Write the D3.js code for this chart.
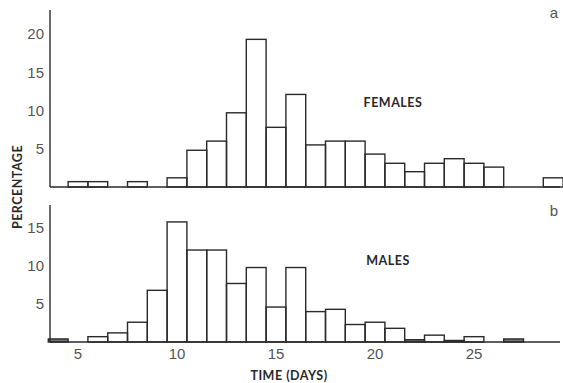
<!DOCTYPE html>
<html>
<head>
<meta charset="utf-8">
<script src="https://cdn.jsdelivr.net/npm/d3@7"></script>
<style>
  body { margin: 0; background: #fff; }
  svg { display: block; }
  .tick-label { font-family: 'Liberation Sans', Arial, sans-serif; font-size: 15px; fill: #555; }
  .lbl { font-family: Lato, 'Open Sans', sans-serif; font-weight: bold; font-size: 12.5px; fill: #2a2a2a; letter-spacing: 0.5px; }
</style>
</head>
<body>
<svg width="563" height="383"></svg>
<script>
// days (bar centres) and percentages
let femaleDays = [5, 6, 8, 10, 11, 12, 13, 14, 15, 16, 17, 18, 19, 20, 21, 22, 23, 24, 25, 26, 29];
let femaleValues = [0.7, 0.7, 0.7, 1.2, 4.8, 6.0, 9.7, 19.3, 7.8, 12.1, 5.5, 6.0, 6.0, 4.3, 3.1, 2.0, 3.1, 3.7, 3.1, 2.6, 1.2];
let maleDays = [4, 6, 7, 8, 9, 10, 11, 12, 13, 14, 15, 16, 17, 18, 19, 20, 21, 22, 23, 24, 25, 27];
let maleValues = [0.4, 0.7, 1.2, 2.6, 6.8, 15.8, 12.1, 12.1, 7.7, 9.8, 4.6, 9.8, 4.0, 4.3, 2.3, 2.6, 1.8, 0.3, 0.9, 0.2, 0.7, 0.4];
let xTicks = [5, 10, 15, 20, 25];
let femaleTicks = [5, 10, 15, 20];
let maleTicks = [5, 10, 15];

let svg = d3.select('svg');
let ink = '#2a2a2a';

let x = d3.scaleLinear().domain([5, 25]).range([78, 474]);
let bw = x(1) - x(0);

let panels = [
  { days: femaleDays, values: femaleValues, ticks: femaleTicks, y: d3.scaleLinear().domain([0, 20]).range([187, 34]),
    top: 10, name: 'FEMALES', nameX: 393, nameY: 107, letter: 'a', letterY: 18 },
  { days: maleDays, values: maleValues, ticks: maleTicks, y: d3.scaleLinear().domain([0, 15]).range([342, 228]),
    top: 205, name: 'MALES', nameX: 388, nameY: 265, letter: 'b', letterY: 216 }
];

panels.forEach(function(p) {
  let g = svg.append('g');
  let base = p.y(0);
  let data = p.days.map(function(d, i) { return { day: d, v: p.values[i] }; });

  g.selectAll('rect')
    .data(data)
    .enter()
    .append('rect')
    .attr('x', function(d) { return x(d.day - 0.5); })
    .attr('y', function(d) { return p.y(d.v); })
    .attr('width', bw)
    .attr('height', function(d) { return base - p.y(d.v); })
    .attr('fill', function(d) { return d.v < 0.5 ? '#777' : 'none'; })
    .attr('stroke', ink)
    .attr('stroke-width', 1.4);

  // axes
  g.append('line')
    .attr('x1', 50).attr('x2', 50)
    .attr('y1', p.top).attr('y2', base)
    .attr('stroke', ink).attr('stroke-width', 1.4);
  g.append('line')
    .attr('x1', 50).attr('x2', 560)
    .attr('y1', base).attr('y2', base)
    .attr('stroke', ink).attr('stroke-width', 1.4);

  g.selectAll('.ytick')
    .data(p.ticks)
    .enter()
    .append('text')
    .attr('class', 'tick-label')
    .attr('x', 44)
    .attr('y', function(d) { return p.y(d); })
    .attr('dy', '0.35em')
    .attr('text-anchor', 'end')
    .text(function(d) { return d; });

  g.append('text')
    .attr('class', 'lbl')
    .attr('x', p.nameX).attr('y', p.nameY)
    .attr('text-anchor', 'middle')
    .text(p.name);

  g.append('text')
    .attr('class', 'tick-label')
    .attr('x', 554).attr('y', p.letterY)
    .attr('text-anchor', 'middle')
    .text(p.letter);
});

svg.selectAll('.xtick')
  .data(xTicks)
  .enter()
  .append('text')
  .attr('class', 'tick-label')
  .attr('x', function(d) { return x(d); })
  .attr('y', 359)
  .attr('text-anchor', 'middle')
  .text(function(d) { return d; });

svg.append('text')
  .attr('class', 'lbl')
  .attr('x', 289).attr('y', 380)
  .attr('text-anchor', 'middle')
  .text('TIME (DAYS)');

svg.append('text')
  .attr('class', 'lbl')
  .attr('transform', 'translate(22,187) rotate(-90)')
  .attr('text-anchor', 'middle')
  .text('PERCENTAGE');
</script>
</body>
</html>
